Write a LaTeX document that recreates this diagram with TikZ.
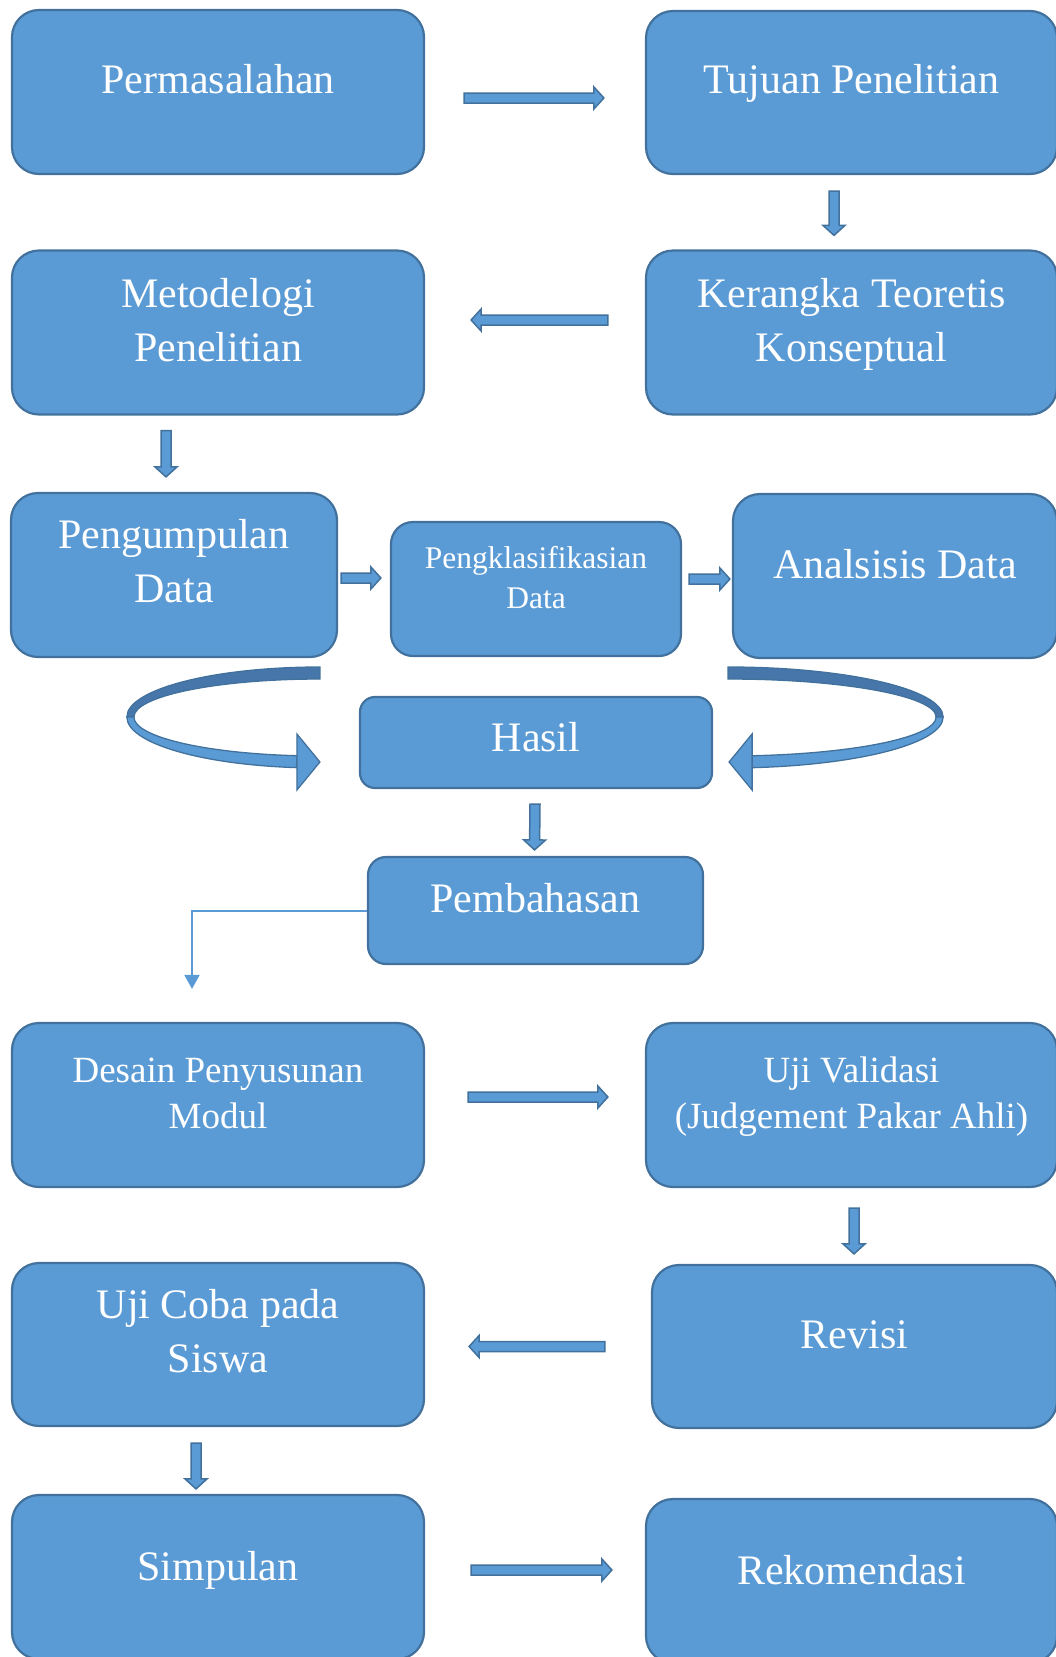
\documentclass[tikz,border=0pt]{standalone}
\usepackage{fontspec}
\setmainfont{Liberation Serif}
\usetikzlibrary{calc,arrows.meta}

\definecolor{boxfill}{HTML}{5B9BD5}
\definecolor{boxline}{HTML}{41719C}
\definecolor{bandback}{HTML}{4777AA}

\newcommand{\bigtxt}{\fontsize{42}{54}\selectfont}
\newcommand{\midtxt}{\fontsize{37}{46}\selectfont}
\newcommand{\smalltxt}{\fontsize{31.5}{40}\selectfont}

% block arrow from #1 to #2
\newcommand{\blockarrow}[2]{%
	\path (#1) coordinate (ba-s) (#2) coordinate (ba-e);
	\path ($(ba-e)!10pt!(ba-s)$) coordinate (ba-h);
	\filldraw[arrowbody] ($(ba-s)!5pt!90:(ba-e)$) -- ($(ba-h)!5pt!-90:(ba-s)$)
		-- ($(ba-h)!11pt!-90:(ba-s)$) -- (ba-e) -- ($(ba-h)!11pt!90:(ba-s)$)
		-- ($(ba-h)!5pt!90:(ba-s)$) -- ($(ba-s)!5pt!-90:(ba-e)$) -- cycle;
}

\begin{document}
\begin{tikzpicture}[x=1pt,y=-1pt,
	box/.style={draw=boxline, fill=boxfill, line width=2.2pt, rounded corners=27pt, inner sep=0pt},
	txt/.style={text=white, inner sep=0pt, align=center, anchor=base},
	arrowbody/.style={draw=boxline, fill=boxfill, line width=1.5pt, line join=miter},
	bandtop/.style={draw=boxline, fill=bandback, line width=1.3pt},
	bandfront/.style={draw=boxline, fill=boxfill, line width=1.3pt},
	link/.style={draw=boxfill, line width=2pt, -{Triangle[width=15pt,length=14pt]}}]
	\useasboundingbox (0,0) rectangle (1056,1657);
	\clip (0,0) rectangle (1056,1657);

	\node[box, minimum width=412pt, minimum height=164pt] (perm) at (218,92) {};
	\node[box, minimum width=411pt, minimum height=163pt] (tujuan) at (851.5,92.5) {};
	\node[box, minimum width=412pt, minimum height=164pt] (metode) at (218,332.5) {};
	\node[box, minimum width=411pt, minimum height=164pt] (kerangka) at (851.5,332.5) {};
	\node[box, minimum width=326pt, minimum height=164pt] (kumpul) at (174,575) {};
	\node[box, minimum width=290pt, minimum height=134pt, rounded corners=22pt] (klasif) at (536,589) {};
	\node[box, minimum width=324pt, minimum height=164pt] (analisis) at (895,576) {};
	\node[box, minimum width=352pt, minimum height=91pt, rounded corners=15pt] (hasil) at (536,742.5) {};
	\node[box, minimum width=335pt, minimum height=107pt, rounded corners=18pt] (bahas) at (535.5,910.5) {};
	\node[box, minimum width=412pt, minimum height=164pt] (desain) at (218,1105) {};
	\node[box, minimum width=411pt, minimum height=164pt] (validasi) at (851.5,1105) {};
	\node[box, minimum width=412pt, minimum height=163pt] (ujicoba) at (218,1344.5) {};
	\node[box, minimum width=405pt, minimum height=163pt] (revisi) at (854.5,1346.5) {};
	\node[box, minimum width=412pt, minimum height=164pt] (simpulan) at (218,1577) {};
	\node[box, minimum width=411pt, minimum height=164pt] (rekom) at (851.5,1581) {};

	\node[txt, font=\bigtxt] (perm-t) at ($(perm.center)+(0,1)$) {Permasalahan};
	\node[txt, font=\bigtxt] (tujuan-t) at ($(tujuan.center)+(0,1)$) {Tujuan Penelitian};
	\node[txt, font=\bigtxt] (metode-t) at ($(metode.center)+(0,28.5)$) {Metodelogi\\Penelitian};
	\node[txt, font=\bigtxt] (kerangka-t) at ($(kerangka.center)+(0,28.5)$) {Kerangka Teoretis\\Konseptual};
	\node[txt, font=\bigtxt] (kumpul-t) at ($(kumpul.center)+(0,27)$) {Pengumpulan\\Data};
	\node[txt, font=\smalltxt] (klasif-t) at ($(klasif.center)+(0,19)$) {Pengklasifikasian\\Data};
	\node[txt, font=\bigtxt] (analisis-t) at ($(analisis.center)+(0,2)$) {Analsisis Data};
	\node[txt, font=\bigtxt] (hasil-t) at ($(hasil.center)+(0,8.5)$) {Hasil};
	\node[txt, font=\bigtxt] (bahas-t) at ($(bahas.center)+(0,1.5)$) {Pembahasan};
	\node[txt, font=\midtxt] (desain-t) at ($(desain.center)+(0,23)$) {Desain Penyusunan\\Modul};
	\node[txt, font=\midtxt] (validasi-t) at ($(validasi.center)+(0,23)$) {Uji Validasi\\(Judgement Pakar Ahli)};
	\node[txt, font=\bigtxt] (ujicoba-t) at ($(ujicoba.center)+(0,27.5)$) {Uji Coba pada\\Siswa};
	\node[txt, font=\bigtxt] (revisi-t) at ($(revisi.center)+(0,1.5)$) {Revisi};
	\node[txt, font=\bigtxt] (simpulan-t) at ($(simpulan.center)+(0,3)$) {Simpulan};
	\node[txt, font=\bigtxt] (rekom-t) at ($(rekom.center)+(0,3)$) {Rekomendasi};

	\blockarrow{[shift={(39,6)}]perm.east}{[shift={(-41,5.5)}]tujuan.west}
	\blockarrow{[shift={(-17.5,16)}]tujuan.south}{[shift={(-17.5,-14)}]kerangka.north}
	\blockarrow{[shift={(-37,-12.5)}]kerangka.west}{[shift={(46,-12.5)}]metode.east}
	\blockarrow{[shift={(-52,15)}]metode.south}{[shift={(-8,-15)}]kumpul.north}
	\blockarrow{[shift={(3,3)}]kumpul.east}{[shift={(-9,-11)}]klasif.west}
	\blockarrow{[shift={(7,-10)}]klasif.east}{[shift={(-2,3)}]analisis.west}
	\blockarrow{[shift={(-1,15)}]hasil.south}{[shift={(-1,-6)}]bahas.north}
	\blockarrow{[shift={(43,-8)}]desain.east}{[shift={(-37,-8)}]validasi.west}
	\blockarrow{[shift={(2.5,20)}]validasi.south}{[shift={(-0.5,-10)}]revisi.north}
	\blockarrow{[shift={(-46,0)}]revisi.west}{[shift={(44,2)}]ujicoba.east}
	\blockarrow{[shift={(-22,16)}]ujicoba.south}{[shift={(-22,-5)}]simpulan.north}
	\blockarrow{[shift={(46,-7)}]simpulan.east}{[shift={(-33,-11)}]rekom.west}

	% curved arrows into Hasil
	\coordinate (lc) at ([shift={(-39,-25.5)}]hasil.west);
	\coordinate (rc) at ([shift={(15,-25.5)}]hasil.east);
	\filldraw[bandtop] ($(lc)+(270:193 and 50)$) arc[start angle=270, end angle=180, x radius=193, y radius=50]
		-- ($(lc)+(180:186 and 38)$) arc[start angle=180, end angle=270, x radius=186, y radius=38] -- cycle;
	\filldraw[bandfront] ($(lc)+(180:193 and 51)$) arc[start angle=180, end angle=97, x radius=193, y radius=51]
		-- ($(lc)+(97:186 and 39)$) arc[start angle=97, end angle=180, x radius=186, y radius=39] -- cycle;
	\filldraw[bandfront] ($(lc)+(-23,17)$) -- ($(lc)+(0,45)$) -- ($(lc)+(-23,73)$) -- cycle;

	\filldraw[bandtop] ($(rc)+(270:215 and 50)$) arc[start angle=270, end angle=360, x radius=215, y radius=50]
		-- ($(rc)+(0:208 and 38)$) arc[start angle=360, end angle=270, x radius=208, y radius=38] -- cycle;
	\filldraw[bandfront] ($(rc)+(0:215 and 51)$) arc[start angle=0, end angle=83.5, x radius=215, y radius=51]
		-- ($(rc)+(83.5:208 and 39)$) arc[start angle=83.5, end angle=0, x radius=208, y radius=39] -- cycle;
	\filldraw[bandfront] ($(rc)+(24,17)$) -- ($(rc)+(1,45)$) -- ($(rc)+(24,73)$) -- cycle;

	\coordinate (desain-in) at ([shift={(-26,-33)}]desain.north);
	\draw[link] (bahas.west) -| (desain-in);
\end{tikzpicture}
\end{document}
